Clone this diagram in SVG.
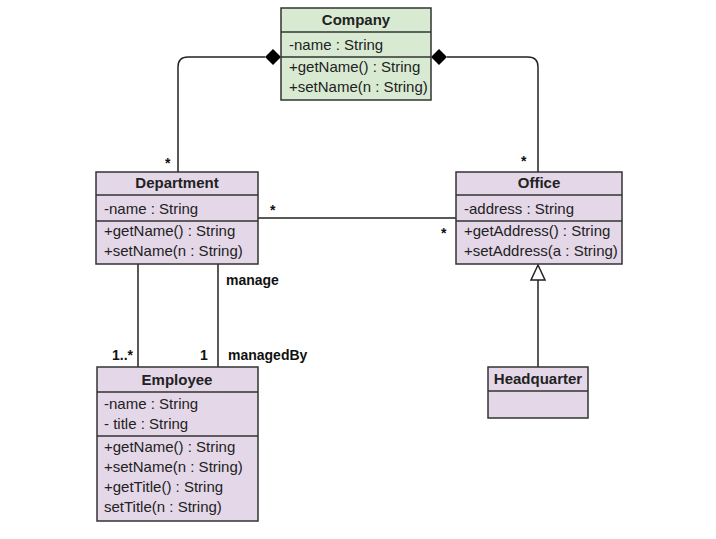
<svg xmlns="http://www.w3.org/2000/svg" width="716" height="539" viewBox="0 0 716 539">
<style>
.box{stroke:#333;stroke-width:1.5}
.g{fill:#d9ead3}
.p{fill:#e4d7e8}
.t{font-family:"Liberation Sans",Arial,sans-serif;font-size:15px;fill:#222}
.b{font-weight:bold;text-anchor:middle}
.l{font-family:"Liberation Sans",Arial,sans-serif;font-size:14px;font-weight:bold;fill:#111}
.c{fill:none;stroke:#222;stroke-width:1.5}
</style>
<rect width="716" height="539" fill="#fff"/>
<g id="connectors">
<path class="c" d="M265,57 H188 Q178,57 178,67 V172"/>
<path class="c" d="M447,57 H528 Q538,57 538,67 V172"/>
<path d="M281,57 L273,49 L265,57 L273,65 Z" fill="#000"/>
<path d="M431,57 L439,49 L447,57 L439,65 Z" fill="#000"/>
<path class="c" d="M258,218 H456"/>
<path class="c" d="M138,264 V367"/>
<path class="c" d="M218,264 V367"/>
<path class="c" d="M538,280 V367"/>
<path d="M538,265 L531,280 L545,280 Z" fill="#fff" stroke="#222" stroke-width="1.5"/>
<text class="l" x="165" y="168">*</text>
<text class="l" x="521" y="166">*</text>
<text class="l" x="270" y="215">*</text>
<text class="l" x="441" y="238">*</text>
<text class="l" x="226" y="285">manage</text>
<text class="l" x="112" y="360">1..*</text>
<text class="l" x="200" y="360">1</text>
<text class="l" x="228" y="360">managedBy</text>
</g>
<g id="company">
<rect class="box g" x="281" y="8" width="150" height="92"/>
<line class="box" x1="281" y1="32" x2="431" y2="32"/>
<line class="box" x1="281" y1="57" x2="431" y2="57"/>
<text class="t b" x="356" y="25">Company</text>
<text class="t" x="289" y="50">-name : String</text>
<text class="t" x="289" y="72">+getName() : String</text>
<text class="t" x="289" y="92">+setName(n : String)</text>
</g>
<g id="department">
<rect class="box p" x="96" y="172" width="162" height="92"/>
<line class="box" x1="96" y1="195" x2="258" y2="195"/>
<line class="box" x1="96" y1="221" x2="258" y2="221"/>
<text class="t b" x="177" y="188">Department</text>
<text class="t" x="104" y="214">-name : String</text>
<text class="t" x="104" y="236">+getName() : String</text>
<text class="t" x="104" y="256">+setName(n : String)</text>
</g>
<g id="office">
<rect class="box p" x="456" y="172" width="166" height="92"/>
<line class="box" x1="456" y1="195" x2="622" y2="195"/>
<line class="box" x1="456" y1="221" x2="622" y2="221"/>
<text class="t b" x="539" y="188">Office</text>
<text class="t" x="464" y="214">-address : String</text>
<text class="t" x="464" y="236">+getAddress() : String</text>
<text class="t" x="464" y="256">+setAddress(a : String)</text>
</g>
<g id="employee">
<rect class="box p" x="97" y="367" width="161" height="154"/>
<line class="box" x1="97" y1="392" x2="258" y2="392"/>
<line class="box" x1="97" y1="436" x2="258" y2="436"/>
<text class="t b" x="177" y="385">Employee</text>
<text class="t" x="104" y="409">-name : String</text>
<text class="t" x="104" y="429">- title : String</text>
<text class="t" x="104" y="452">+getName() : String</text>
<text class="t" x="104" y="472">+setName(n : String)</text>
<text class="t" x="104" y="492">+getTitle() : String</text>
<text class="t" x="104" y="512">setTitle(n : String)</text>
</g>
<g id="headquarter">
<rect class="box p" x="488" y="367" width="100" height="51"/>
<line class="box" x1="488" y1="391" x2="588" y2="391"/>
<text class="t b" x="538" y="384">Headquarter</text>
</g>
</svg>
